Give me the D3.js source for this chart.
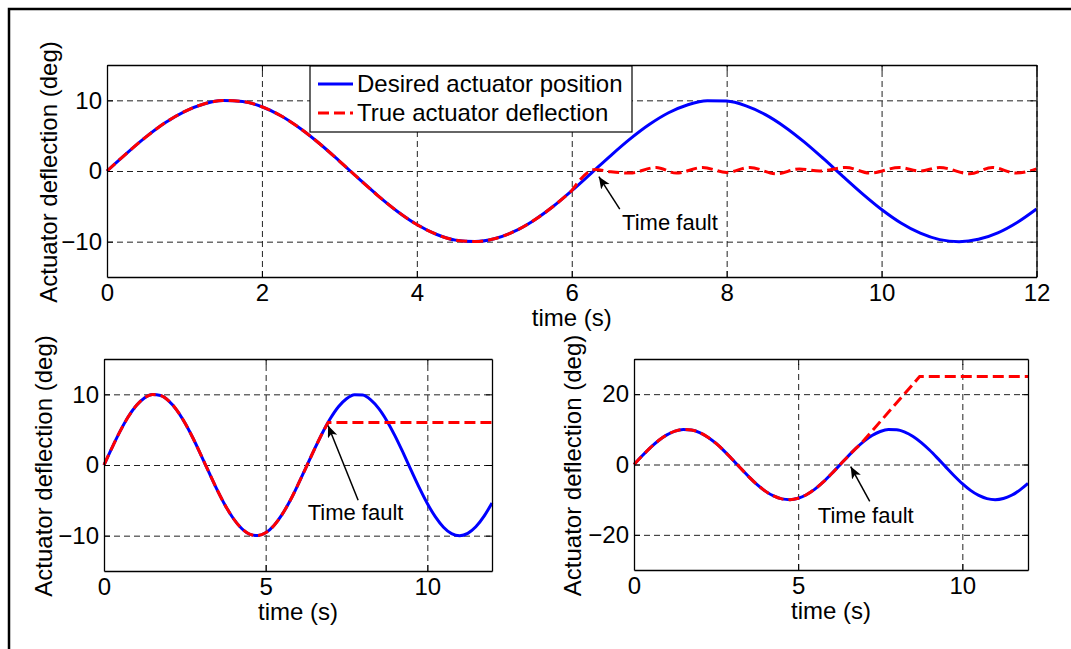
<!DOCTYPE html>
<html>
<head>
<meta charset="utf-8">
<script src="https://cdn.jsdelivr.net/npm/d3@7"></script>
<style>
  body { margin: 0; background: #fff; }
  text { font-family: "Liberation Sans", Arial, Helvetica, sans-serif; fill: #000; }
</style>
</head>
<body>
<div id="graph"></div>
<script>
// sample times (s) and desired actuator position (deg)
const timeS = [0, 0.25, 0.5, 0.75, 1, 1.25, 1.5, 1.75, 2, 2.25, 2.5, 2.75, 3, 3.25, 3.5, 3.75,
  4, 4.25, 4.5, 4.75, 5, 5.25, 5.5, 5.75, 6, 6.25, 6.5, 6.75, 7, 7.25, 7.5, 7.75,
  8, 8.25, 8.5, 8.75, 9, 9.25, 9.5, 9.75, 10, 10.25, 10.5, 10.75, 11, 11.25, 11.5, 11.75, 12];
const desired = [0, 2.47, 4.79, 6.82, 8.41, 9.49, 9.97, 9.84, 9.09, 7.78, 5.98, 3.82, 1.41, -1.08, -3.51, -5.72,
  -7.57, -8.95, -9.78, -9.99, -9.59, -8.59, -7.06, -5.10, -2.79, -0.33, 2.15, 4.50, 6.57, 8.24, 9.38, 9.94,
  9.89, 9.22, 7.98, 6.24, 4.12, 1.74, -0.75, -3.19, -5.44, -7.35, -8.80, -9.71, -10.00, -9.67, -8.75, -7.28, -5.37];

// true deflection after the fault, per panel
const faultTopT = [6.3, 6.5, 6.75, 7.09, 7.35, 7.69, 8.0, 8.3, 8.64, 8.94, 9.2, 9.54, 9.85, 10.23, 10.49, 10.75, 11.14, 11.43, 11.74, 12];
const faultTopV = [0.2, -0.1, -0.3, 0.5, -0.3, 0.5, -0.2, 0.5, -0.4, 0.3, 0, 0.5, -0.3, 0.5, 0, 0.5, -0.4, 0.5, -0.3, 0.3];
const faultLeftT = [6.93, 12];
const faultLeftV = [6.0, 6.0];
const faultRightT = [6.9, 8.7, 12];
const faultRightV = [5.8, 25, 25];

const seriesNames = ["Desired actuator position", "True actuator deflection"];
const xTicksTop = [0, 2, 4, 6, 8, 10, 12];
const xTicksBottom = [0, 5, 10];
const yTicksSmall = [-10, 0, 10];
const yTicksLarge = [-20, 0, 20];

const W = 1071, H = 649;
const svg = d3.select("#graph").append("svg")
  .attr("width", W)
  .attr("height", H);

svg.append("defs").append("marker")
  .attr("id", "head")
  .attr("markerUnits", "userSpaceOnUse")
  .attr("markerWidth", 14).attr("markerHeight", 12)
  .attr("refX", 12).attr("refY", 5)
  .attr("orient", "auto")
  .append("path")
  .attr("d", "M0,0 L12,5 L0,10 L3,5 Z")
  .attr("fill", "#000");

// outer figure frame (cropped on right and bottom)
svg.append("rect")
  .attr("x", 9).attr("y", 9)
  .attr("width", 1200).attr("height", 800)
  .attr("fill", "none").attr("stroke", "#000").attr("stroke-width", 2.5);

function toPts(ts, vs) {
  return ts.map((t, i) => [t, vs[i]]);
}

function untilFault(tf) {
  return timeS.map((t, i) => [t, desired[i]]).filter(d => d[0] < tf - 0.05);
}

function panel(o) {
  const w = o.right - o.left, h = o.bottom - o.top;
  const g = svg.append("g").attr("transform", `translate(${o.left},${o.top})`);
  const x = d3.scaleLinear().domain([0, 12]).range([0, w]);
  const y = d3.scaleLinear().domain(o.yDomain).range([h, 0]);

  // grid
  g.append("g").attr("class", "grid")
    .attr("transform", `translate(0,${h})`)
    .call(d3.axisBottom(x).tickValues(o.xTicks).tickSize(-h).tickFormat(""));
  g.append("g").attr("class", "grid")
    .call(d3.axisLeft(y).tickValues(o.yTicks).tickSize(-w).tickFormat(""));
  g.selectAll(".grid .domain").remove();
  g.selectAll(".grid line")
    .attr("stroke", "#222").attr("stroke-width", 1).attr("stroke-dasharray", "6,4");

  // curves
  const smooth = d3.line()
    .x(d => x(d[0])).y(d => y(d[1]))
    .curve(d3.curveMonotoneX);
  const after = d3.line()
    .x(d => x(d[0])).y(d => y(d[1]))
    .curve(o.faultCurve);
  g.append("path")
    .datum(toPts(timeS, desired))
    .attr("d", smooth)
    .attr("fill", "none").attr("stroke", "#0000ff").attr("stroke-width", 3);
  const pre = untilFault(o.faultT[0]);
  const post = toPts(o.faultT, o.faultV);
  g.append("path")
    .attr("d", smooth(pre) + after([pre[pre.length - 1]].concat(post)).replace(/^M/, "L"))
    .attr("fill", "none").attr("stroke", "#ff0000").attr("stroke-width", 3)
    .attr("stroke-dasharray", "11,5");

  // axes with inward ticks on all four sides
  const ax = [
    g.append("g").attr("transform", `translate(0,${h})`)
      .call(d3.axisBottom(x).tickValues(o.xTicks).tickSize(-6).tickPadding(7).tickSizeOuter(0)),
    g.append("g")
      .call(d3.axisLeft(y).tickValues(o.yTicks).tickSize(-6).tickPadding(5).tickSizeOuter(0)),
    g.append("g")
      .call(d3.axisTop(x).tickValues(o.xTicks).tickSize(-6).tickFormat("").tickSizeOuter(0)),
    g.append("g").attr("transform", `translate(${w},0)`)
      .call(d3.axisRight(y).tickValues(o.yTicks).tickSize(-6).tickFormat("").tickSizeOuter(0))
  ];
  ax.forEach(a => {
    a.select(".domain").attr("stroke", "#000").attr("stroke-width", 1.3);
    a.selectAll("line").attr("stroke", "#000");
    a.selectAll("text").style("font-size", "24px").attr("fill", "#000");
  });
  ax[0].selectAll("text").attr("dy", "0.71em");

  // labels
  g.append("text")
    .attr("x", w / 2).attr("y", h + 49)
    .attr("text-anchor", "middle")
    .style("font-size", "24px")
    .text("time (s)");
  g.append("text")
    .attr("transform", `translate(${o.yLabelX - o.left},${h / 2 + 1}) rotate(-90)`)
    .attr("text-anchor", "middle")
    .style("font-size", "24px")
    .text("Actuator deflection (deg)");

  // fault annotation
  const a = o.note;
  g.append("line")
    .attr("x1", x(a.tail[0])).attr("y1", y(a.tail[1]))
    .attr("x2", x(a.tip[0])).attr("y2", y(a.tip[1]))
    .attr("stroke", "#000").attr("stroke-width", 1.5)
    .attr("marker-end", "url(#head)");
  g.append("text")
    .attr("x", x(a.text[0])).attr("y", y(a.text[1]))
    .style("font-size", "22px")
    .text("Time fault");

  return g;
}

const topPanel = panel({
  left: 107, right: 1036.5, top: 65, bottom: 277,
  yDomain: [-15, 15], xTicks: xTicksTop, yTicks: yTicksSmall,
  faultT: faultTopT, faultV: faultTopV, faultCurve: d3.curveMonotoneX, yLabelX: 57,
  note: { tail: [6.62, -5.4], tip: [6.35, -0.8], text: [6.65, -8.4] }
});

panel({
  left: 104, right: 492, top: 359, bottom: 571,
  yDomain: [-15, 15], xTicks: xTicksBottom, yTicks: yTicksSmall,
  faultT: faultLeftT, faultV: faultLeftV, faultCurve: d3.curveLinear, yLabelX: 52,
  note: { tail: [7.86, -5.0], tip: [6.93, 5.6], text: [6.3, -7.85] }
});

panel({
  left: 634, right: 1028, top: 359, bottom: 570,
  yDomain: [-30, 30], xTicks: xTicksBottom, yTicks: yTicksLarge,
  faultT: faultRightT, faultV: faultRightV, faultCurve: d3.curveLinear, yLabelX: 581,
  note: { tail: [7.18, -10.5], tip: [6.6, -0.6], text: [5.6, -16.5] }
});

// legend in the top panel
const lg = topPanel.append("g").attr("transform", "translate(203,1)");
lg.append("rect")
  .attr("width", 322).attr("height", 66)
  .attr("fill", "#fff").attr("stroke", "#000").attr("stroke-width", 1.2);
const styles = [
  { color: "#0000ff", dash: null },
  { color: "#ff0000", dash: "11,5" }
];
seriesNames.forEach((name, i) => {
  const cy = 18 + i * 29;
  lg.append("line")
    .attr("x1", 8).attr("x2", 43).attr("y1", cy).attr("y2", cy)
    .attr("stroke", styles[i].color).attr("stroke-width", 3)
    .attr("stroke-dasharray", styles[i].dash);
  lg.append("text")
    .attr("x", 47).attr("y", cy).attr("dy", "0.35em")
    .style("font-size", "24px")
    .text(name);
});
</script>
</body>
</html>
